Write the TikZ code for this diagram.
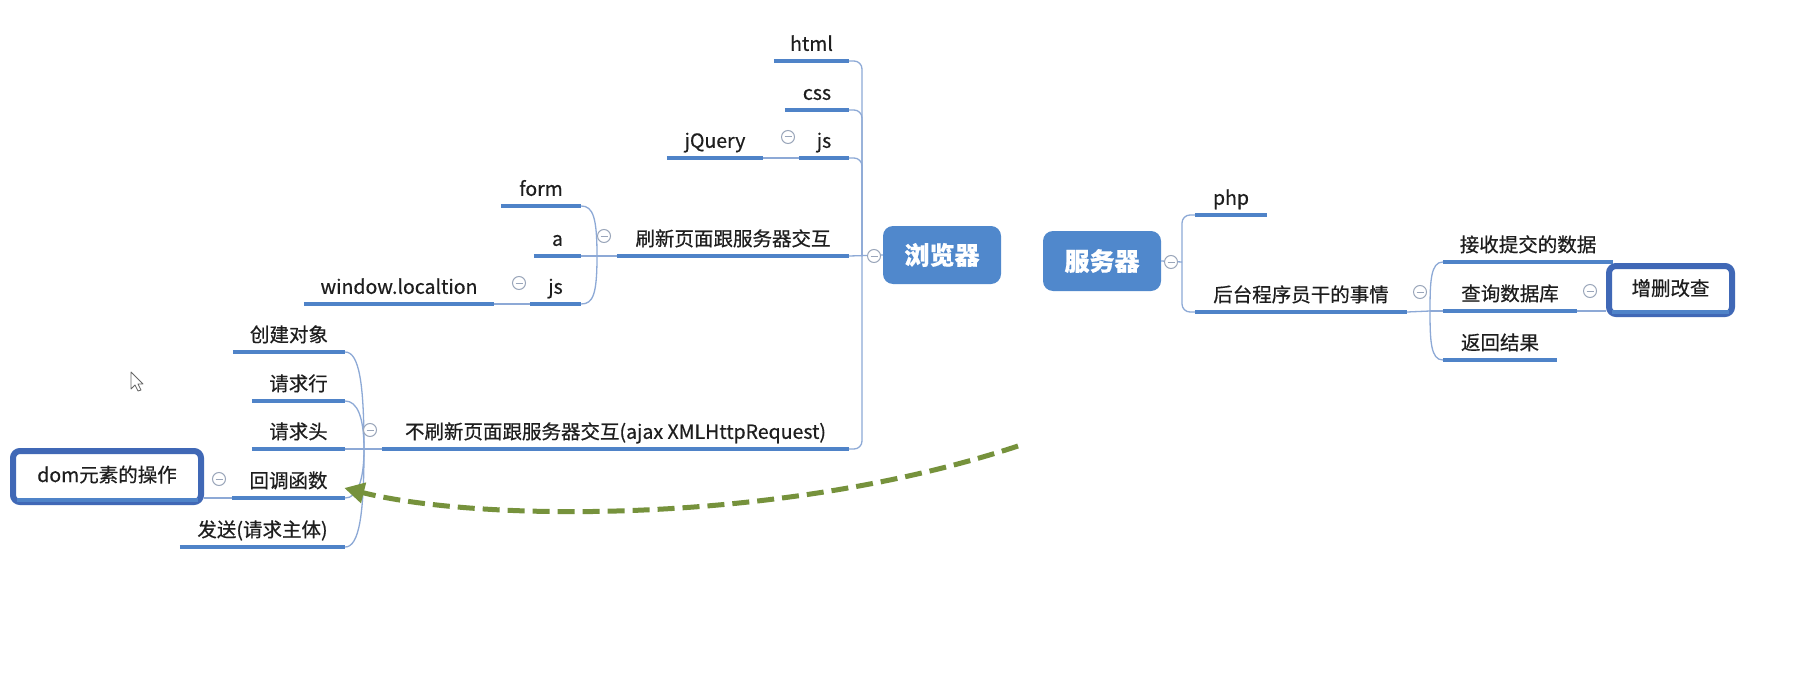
\documentclass[tikz,border=0pt]{standalone}
\usepackage{fontspec}
\setmainfont{Noto Sans CJK SC}[FakeBold=0.5]
\usetikzlibrary{calc,arrows.meta}
\definecolor{ulblue}{HTML}{4F83C8}
\definecolor{connblue}{HTML}{8DA9D6}
\definecolor{rootblue}{HTML}{5088CC}
\definecolor{boxborder}{HTML}{4068B6}
\definecolor{collgray}{HTML}{9AA6BA}
\definecolor{dashgreen}{HTML}{76923C}
\definecolor{txt}{HTML}{1E1E1E}
\tikzset{
 topic/.style={anchor=south, inner xsep=0pt, inner ysep=6pt, text height=15pt, text depth=4pt, font=\fontsize{19.5}{22}\selectfont, text=txt},
 ul/.style={draw=ulblue, line width=4pt},
 conn/.style={draw=connblue, line width=1.3pt},
 rootbox/.style={rectangle, rounded corners=10pt, fill=rootblue, text=white, font=\fontsize{25}{28}\selectfont\bfseries, inner sep=0pt},
 selbox/.style={rectangle, rounded corners=7pt, draw=boxborder, line width=6pt, fill=white, font=\fontsize{19.5}{22}\selectfont, text=txt, inner sep=0pt},
 coll/.style={circle, draw=collgray, line width=1pt, fill=white, minimum size=13pt, inner sep=0pt,
   path picture={\draw[collgray, line width=1pt] ([xshift=-3.5pt]path picture bounding box.center) -- ([xshift=3.5pt]path picture bounding box.center);}},
 dasharrow/.style={draw=dashgreen, line width=5pt, dash pattern=on 17pt off 8pt, -{Triangle[length=20pt,width=20pt]}},
}
\begin{document}
\begin{tikzpicture}[x=1pt,y=-1pt]
\fill[white] (0,0) rectangle (1798,695);
\useasboundingbox (0,0) rectangle (1798,695);

% root boxes
\node[rootbox, minimum width=118pt, minimum height=58pt] (browser) at (942,255) {浏览器};
\node[rootbox, minimum width=118pt, minimum height=60pt] (server) at (1102,261) {服务器};

% topics: browser side
\node[topic, minimum width=75pt] (html) at (811.5,61) {html};
\node[topic, minimum width=64pt] (css) at (817,110) {css};
\node[topic, minimum width=50pt] (jsa) at (824,158) {js};
\node[topic, minimum width=96pt] (jquery) at (715,158) {jQuery};
\node[topic, minimum width=232pt] (shua) at (733,256) {刷新页面跟服务器交互};
\node[topic, minimum width=467pt] (ajax) at (615.5,449) {不刷新页面跟服务器交互(ajax XMLHttpRequest)};
\node[topic, minimum width=80pt] (form) at (541,206) {form};
\node[topic, minimum width=47pt] (atag) at (557.5,256) {a};
\node[topic, minimum width=51pt] (jsb) at (555.5,304) {js};
\node[topic, minimum width=190pt] (window) at (399,304) {window.localtion};
\node[topic, minimum width=112pt] (chuang) at (289,352) {创建对象};
\node[topic, minimum width=93pt] (hang) at (298.5,401) {请求行};
\node[topic, minimum width=93pt] (tou) at (298.5,449) {请求头};
\node[topic, minimum width=113pt] (hui) at (288.5,498) {回调函数};
\node[topic, minimum width=165pt] (fa) at (262.5,547) {发送(请求主体)};
\node[selbox, minimum width=188pt, minimum height=51pt, text height=15pt, text depth=4pt] (dom) at (107,476.5) {dom元素的操作};

% topics: server side
\node[topic, minimum width=72pt] (php) at (1231,215) {php};
\node[topic, minimum width=212pt] (hou) at (1301,312) {后台程序员干的事情};
\node[topic, minimum width=170pt] (jie) at (1528,262) {接收提交的数据};
\node[topic, minimum width=134pt] (cha) at (1510,311) {查询数据库};
\node[topic, minimum width=114pt] (fan) at (1500,360) {返回结果};
\node[selbox, minimum width=123pt, minimum height=48pt, text height=15pt, text depth=4pt] (zeng) at (1670.5,290) {增删改查};

% junction coordinates
\coordinate (bj) at (862,256);
\coordinate (j1) at (597,256);
\coordinate (j2) at (364,449);
\coordinate (sj) at (1182,262);
\coordinate (j3) at (1430,311);
\coordinate (ds) at (1018,446);

% connectors: browser
\draw[conn, rounded corners=8pt] (html.south east) -| (bj);
\draw[conn, rounded corners=8pt] (css.south east) -| (bj);
\draw[conn, rounded corners=8pt] (jsa.south east) -| (bj);
\draw[conn, rounded corners=8pt] (ajax.south east) -| (bj);
\draw[conn] (shua.south east) -- (browser.west);
\draw[conn] (jquery.south east) -- (jsa.south west);
% 刷新 bracket
\draw[conn] (shua.south west) -- (j1);
\draw[conn] (j1) .. controls ($(j1)+(0,-38)$) and ($(form.south east)+(12,0)$) .. (form.south east);
\draw[conn] (j1) -- (atag.south east);
\draw[conn] (j1) .. controls ($(j1)+(0,38)$) and ($(jsb.south east)+(12,0)$) .. (jsb.south east);
\draw[conn] (window.south east) -- (jsb.south west);
% ajax bracket
\draw[conn] (ajax.south west) -- (j2);
\draw[conn] (j2) .. controls ($(j2)+(0,-65)$) and ($(chuang.south east)+(14,0)$) .. (chuang.south east);
\draw[conn] (j2) .. controls ($(j2)+(0,-32)$) and ($(hang.south east)+(12,0)$) .. (hang.south east);
\draw[conn] (j2) -- (tou.south east);
\draw[conn] (j2) .. controls ($(j2)+(0,32)$) and ($(hui.south east)+(12,0)$) .. (hui.south east);
\draw[conn] (j2) .. controls ($(j2)+(0,65)$) and ($(fa.south east)+(14,0)$) .. (fa.south east);
\draw[conn] (hui.south west) -- (hui.south west -| dom.east);
% connectors: server
\draw[conn] (server.east) -- (sj);
\draw[conn, rounded corners=8pt] (sj) |- (php.south west);
\draw[conn, rounded corners=8pt] (sj) |- (hou.south west);
\draw[conn] (hou.south east) -- (j3);
\draw[conn] (j3) .. controls ($(j3)+(0,-30)$) and ($(jie.south west)+(-12,0)$) .. (jie.south west);
\draw[conn] (j3) -- (cha.south west);
\draw[conn] (j3) .. controls ($(j3)+(0,30)$) and ($(fan.south west)+(-12,0)$) .. (fan.south west);
\draw[conn] (cha.south east) -- (cha.south east -| zeng.west);

% underlines
\foreach \n in {html,css,jsa,jquery,shua,ajax,form,atag,jsb,window,chuang,hang,tou,hui,fa,php,hou,jie,cha,fan}
  \draw[ul] (\n.south west) -- (\n.south east);
\draw[ul] ($(dom.south west)+(7,-5)$) -- ($(dom.south east)+(-6,-5)$);
\draw[ul] ($(zeng.south west)+(6,-5)$) -- ($(zeng.south east)+(-6,-5)$);

% collapse markers
\node[coll] (cb) at (874,256) {};
\node[coll] (cs) at (1171,262) {};
\node[coll] (cjsa) at (788,137) {};
\node[coll] (cshua) at (604,236) {};
\node[coll] (cjsb) at (519,283) {};
\node[coll] (cajax) at (370,430) {};
\node[coll] (chui) at (219,479) {};
\node[coll] (chou) at (1420,292) {};
\node[coll] (ccha) at (1590,291) {};

% dashed arrow
\draw[dasharrow] (ds) .. controls (780,525) and (480,522) .. ($(hui.south east)+(-1,-10)$);

% mouse cursor
\draw[fill=white, draw=black!60, line width=0.8pt, line join=round] (131,372) -- (131,389) -- (135,385) -- (138,391) -- (141,390) -- (138,384) -- (143,384) -- cycle;
\end{tikzpicture}
\end{document}
